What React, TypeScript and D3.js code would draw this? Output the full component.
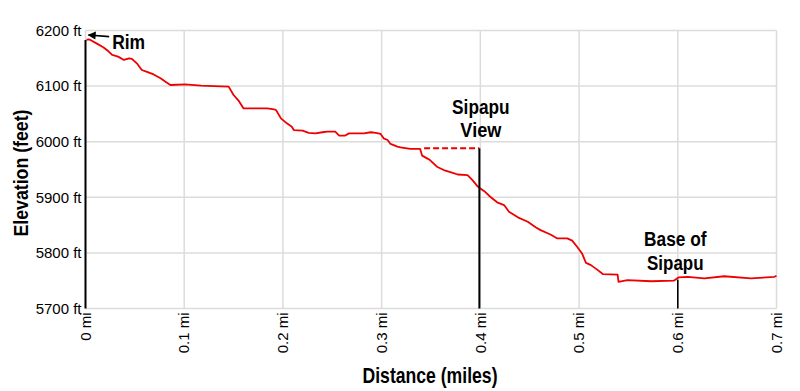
import React from "react";
import * as d3 from "d3";

const distances = [0.001,0.003,0.005,0.012,0.018,0.023,0.027,0.033,0.039,0.044,0.047,0.052,0.057,0.063,0.069,0.076,0.081,0.086,0.101,0.117,0.130,0.145,0.150,0.155,0.160,0.177,0.184,0.191,0.193,0.198,0.204,0.209,0.211,0.220,0.226,0.233,0.240,0.245,0.253,0.257,0.263,0.267,0.282,0.289,0.294,0.299,0.302,0.306,0.309,0.316,0.319,0.329,0.339,0.341,0.346,0.349,0.356,0.363,0.372,0.377,0.387,0.392,0.397,0.400,0.404,0.410,0.417,0.424,0.429,0.438,0.448,0.456,0.461,0.471,0.478,0.488,0.493,0.498,0.503,0.507,0.512,0.519,0.524,0.539,0.540,0.549,0.573,0.596,0.601,0.610,0.627,0.647,0.674,0.698,0.700];
const elevations = [6183,6184,6183,6176,6170,6163,6156,6153,6147,6150,6149,6141,6129,6125,6121,6114,6108,6102,6103,6101,6100,6099,6084,6074,6060,6060,6060,6058,6057,6042,6033,6027,6021,6020,6016,6015,6017,6018,6018,6011,6011,6015,6015,6017,6016,6014,6006,6003,5996,5991,5990,5987,5987,5975,5970,5967,5955,5949,5944,5941,5940,5931,5920,5916,5911,5901,5891,5886,5874,5864,5856,5846,5841,5833,5826,5826,5822,5811,5799,5782,5778,5769,5762,5761,5748,5751,5749,5750,5756,5757,5754,5758,5754,5757,5759];

const xTicks = [0, 0.1, 0.2, 0.3, 0.4, 0.5, 0.6, 0.7];
const xTickLabels = ["0 mi", "0.1 mi", "0.2 mi", "0.3 mi", "0.4 mi", "0.5 mi", "0.6 mi", "0.7 mi"];
const yTicks = [5700, 5800, 5900, 6000, 6100, 6200];
const yTickLabels = ["5700 ft", "5800 ft", "5900 ft", "6000 ft", "6100 ft", "6200 ft"];

const markerDist = [0, 0.399, 0.6];
const markerTop = [6183, 5988, 5752];
const markerLabels = [["Rim"], ["Sipapu", "View"], ["Base of", "Sipapu"]];
const dashedDist = [0.343, 0.399];
const dashedElev = [5988, 5988];

const FONT = "'Liberation Sans', Arial, Helvetica, sans-serif";

function BoldLabel(props: { x: number; y: number; text: string; len: number; size?: number; anchor?: string; transform?: string }) {
  return (
    <text
      x={props.x}
      y={props.y}
      transform={props.transform}
      textAnchor={props.anchor || "middle"}
      fontSize={props.size || 19.5}
      fontWeight="bold"
      fill="#000"
      textLength={props.len}
      lengthAdjust="spacingAndGlyphs"
    >
      {props.text}
    </text>
  );
}

export default function App() {
  const W = 800, H = 391;
  const x = d3.scaleLinear().domain([0, 0.7]).range([85.5, 776.5]);
  const y = d3.scaleLinear().domain([5700, 6200]).range([308.5, 30.5]);

  const pts = distances.map((d, i) => [d, elevations[i]] as [number, number]);
  const line = d3.line<[number, number]>().x(d => x(d[0])).y(d => y(d[1]));
  const dashPts = dashedDist.map((d, i) => [d, dashedElev[i]] as [number, number]);

  const [x0, x1] = x.range();
  const [yb, yt] = y.range();

  const svTop = y(dashedElev[0]);
  const bsTop = y(markerTop[2]);

  return (
    <svg width={W} height={H} style={{ position: "absolute", left: 0, top: 0, background: "#fff" }} fontFamily={FONT}>
      <rect x={0} y={0} width={W} height={H} fill="#fff" />
      {/* grid */}
      {yTicks.map(t => (
        <line key={"gy" + t} x1={x0} x2={x1} y1={y(t)} y2={y(t)} stroke="#dcdcdc" strokeWidth={1.5} />
      ))}
      {xTicks.map(t => (
        <line key={"gx" + t} x1={x(t)} x2={x(t)} y1={yt} y2={yb} stroke="#dcdcdc" strokeWidth={1.5} />
      ))}
      {/* y tick labels */}
      {yTicks.map((t, i) => (
        <text key={"yl" + t} x={x0 - 4} y={y(t)} dy="0.35em" textAnchor="end" fontSize={15} fill="#000">
          {yTickLabels[i]}
        </text>
      ))}
      {/* x tick labels */}
      {xTicks.map((t, i) => (
        <text key={"xl" + t} transform={`translate(${x(t)},${yb + 4}) rotate(-90)`} dy="0.35em" textAnchor="end" fontSize={15} fill="#000">
          {xTickLabels[i]}
        </text>
      ))}
      {/* axis titles */}
      <BoldLabel x={(x0 + x1) / 2 - 1} y={382.5} text="Distance (miles)" len={135} size={22} />
      <BoldLabel x={0} y={0} transform="translate(27.5,173) rotate(-90)" text="Elevation (feet)" len={127} size={20} />

      {/* profile */}
      <path d={line(pts) || ""} fill="none" stroke="#ee0000" strokeWidth={1.8} strokeLinejoin="round" />
      <path d={line(dashPts) || ""} fill="none" stroke="#ee0000" strokeWidth={2} strokeDasharray="6,3" />

      {/* marker lines */}
      {markerDist.map((d, i) => (
        <line key={"m" + i} x1={x(d)} x2={x(d)} y1={y(markerTop[i])} y2={yb} stroke="#000" strokeWidth={i === 2 ? 1.6 : 2} />
      ))}

      {/* Rim arrow */}
      <defs>
        <marker id="ah" viewBox="0 0 10 10" refX={9} refY={5} markerWidth={7} markerHeight={5} orient="auto">
          <path d="M0,0 L10,5 L0,10 z" fill="#000" />
        </marker>
      </defs>
      <line x1={x(0.024)} y1={y(6189)} x2={x(0.003)} y2={y(6192)} stroke="#000" strokeWidth={1.6} markerEnd="url(#ah)" />
      <BoldLabel x={x(0.027)} y={y(6189) + 12.5} text={markerLabels[0][0]} len={33} anchor="start" />

      {/* Sipapu View label */}
      <BoldLabel x={x(markerDist[1]) + 1.5} y={svTop - 34} text={markerLabels[1][0]} len={57.5} />
      <BoldLabel x={x(markerDist[1]) + 1.5} y={svTop - 11.5} text={markerLabels[1][1]} len={41} />

      {/* Base of Sipapu label */}
      <BoldLabel x={x(markerDist[2]) - 2.5} y={bsTop - 34} text={markerLabels[2][0]} len={62.5} />
      <BoldLabel x={x(markerDist[2]) - 2.5} y={bsTop - 10} text={markerLabels[2][1]} len={56.5} />
    </svg>
  );
}
